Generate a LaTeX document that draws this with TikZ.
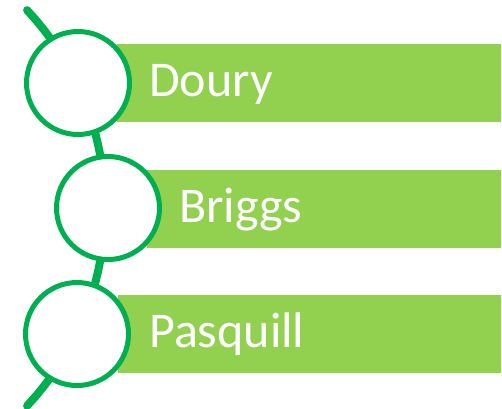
\documentclass[tikz,border=0pt]{standalone}
\usepackage{fontspec}
\setmainfont{Carlito}
\definecolor{ringgreen}{HTML}{00B050}
\definecolor{barlime}{HTML}{92D050}
\begin{document}
\begin{tikzpicture}[x=1pt,y=-1pt,
  bar/.style={fill=barlime,draw=none},
  ring/.style={circle,draw=ringgreen,line width=5pt,fill=white,minimum size=103pt,inner sep=0pt},
  label/.style={anchor=base west,text=white,font=\fontsize{50}{58}\selectfont,inner sep=0pt},
  spine/.style={draw=ringgreen,line width=8pt,line cap=round}]
\useasboundingbox (0,0) rectangle (502,408);
\fill[bar] (117,44) rectangle (501,122);
\fill[bar] (147,170) rectangle (501,248);
\fill[bar] (118,295) rectangle (501,373);
\coordinate (s) at (27.1,10.2);
\draw[spine] (s) arc[start angle=-43,end angle=43,radius=290];
\node[ring] (c1) at (78,83) {};
\node[ring] (c2) at (108,208) {};
\node[ring] (c3) at (77,334) {};
\node[label] (t1) at (149,96) {Doury};
\node[label] (t2) at (179,222) {Briggs};
\node[label] (t3) at (149,347) {Pasquill};
\end{tikzpicture}
\end{document}
